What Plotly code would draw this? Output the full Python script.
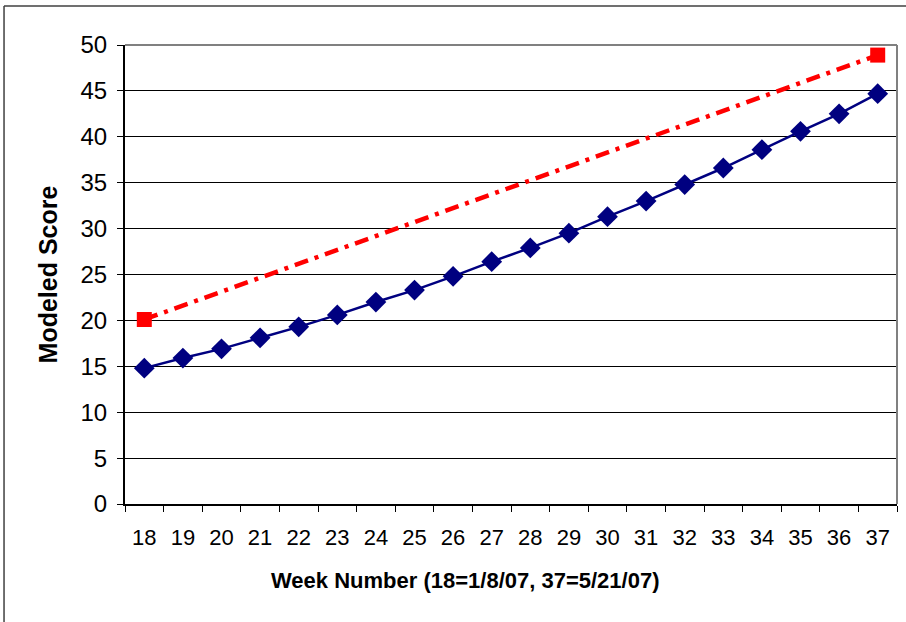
import plotly.graph_objects as go

weeks = [str(w) for w in range(18, 38)]
modeled = [14.8, 15.9, 16.9, 18.1, 19.3, 20.6, 22.0, 23.3, 24.8, 26.4,
           27.9, 29.5, 31.3, 33.0, 34.8, 36.6, 38.6, 40.6, 42.5, 44.7]
target_weeks = ["18", "37"]
target = [20.1, 48.9]
y_ticks = list(range(0, 55, 5))

fig = go.Figure()
fig.add_trace(go.Scatter(
    x=target_weeks, y=target, mode="lines+markers",
    line=dict(color="#FF0000", width=4.5, dash="14px,7px,4px,7px"),
    marker=dict(symbol="square", size=15, color="#FF0000"),
    showlegend=False, cliponaxis=False))
fig.add_trace(go.Scatter(
    x=weeks, y=modeled, mode="lines+markers",
    line=dict(color="#000080", width=2.5),
    marker=dict(symbol="diamond", size=16, color="#000080"),
    showlegend=False, cliponaxis=False))

font = "Liberation Sans, Arial, sans-serif"
fig.update_layout(
    width=906, height=622,
    margin=dict(l=125, r=9, t=45, b=118),
    paper_bgcolor="white", plot_bgcolor="white",
    font=dict(family=font, color="black"),
    xaxis=dict(type="category", categoryorder="array", categoryarray=weeks,
               range=[-0.5, 19.5], tickson="boundaries", automargin=False,
               ticks="outside", ticklen=6, tickcolor="black", tickwidth=1,
               ticklabelstandoff=13,
               showline=True, linecolor="black", linewidth=2,
               showgrid=False, tickfont=dict(size=22, family=font)),
    yaxis=dict(range=[0, 50], tickvals=y_ticks, ticks="outside", ticklen=6,
               tickcolor="black", showline=True, linecolor="black", linewidth=2,
               ticklabelstandoff=5,
               showgrid=True, gridcolor="black", gridwidth=1, automargin=False,
               zeroline=False, tickfont=dict(size=24, family=font),
               title=dict(text="<b>Modeled Score</b>",
                          font=dict(size=25, family=font), standoff=16)),
    annotations=[
        dict(text="<b>Week Number (18=1/8/07, 37=5/21/07)</b>",
             xref="paper", yref="paper", x=0.4417, y=-0.1656,
             xanchor="center", yanchor="middle", showarrow=False,
             font=dict(size=22, family=font, color="black")),
    ],
    shapes=[
        dict(type="line", xref="paper", yref="paper", x0=0, x1=1, y0=1, y1=1,
             line=dict(color="#808080", width=2)),
        dict(type="line", xref="paper", yref="paper", x0=1, x1=1, y0=0, y1=1,
             line=dict(color="#808080", width=2)),
        dict(type="line", xref="paper", yref="paper", x0=-0.1567, x1=1.2,
             y0=1.085, y1=1.085, line=dict(color="#404040", width=1.5)),
        dict(type="line", xref="paper", yref="paper", x0=-0.1567, x1=-0.1567,
             y0=-0.5, y1=1.085, line=dict(color="#404040", width=1.5)),
    ],
)

fig.write_html("out.html", config={"displayModeBar": False},
               post_script="document.body.style.margin='0';document.body.style.overflow='hidden';")
